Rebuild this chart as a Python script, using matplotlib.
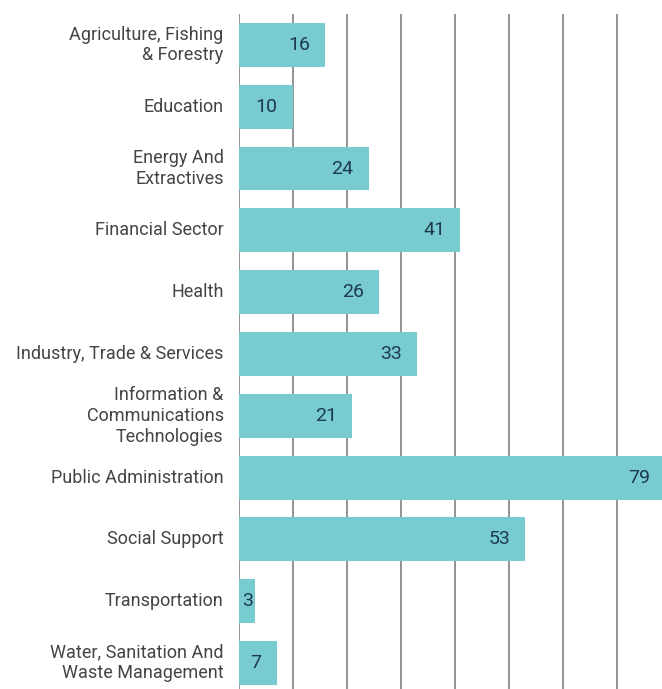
import matplotlib
matplotlib.use('Agg')
import matplotlib.pyplot as plt

sectores = [
    "Agriculture, Fishing\n& Forestry",
    "Education",
    "Energy And\nExtractives",
    "Financial Sector",
    "Health",
    "Industry, Trade & Services",
    "Information &\nCommunications\nTechnologies",
    "Public Administration",
    "Social Support",
    "Transportation",
    "Water, Sanitation And\nWaste Management",
]
valores = [16, 10, 24, 41, 26, 33, 21, 79, 53, 3, 7]
ticks_x = [0, 10, 20, 30, 40, 50, 60, 70]

BAR_COLOR = '#78CCCF'
GRID_COLOR = '#8a8a8a'
XMAX = 78.3

plt.rcParams['font.family'] = ['Roboto', 'DejaVu Sans']

fig = plt.figure(figsize=(6.62, 6.89), dpi=100)
ax_w = 1 - 239 / 662
ax = fig.add_axes([239 / 662, 0, ax_w, 1 - 14 / 689])

y = list(range(len(sectores)))
ax.barh(y, valores, height=0.71, color=BAR_COLOR, zorder=2)

for t in ticks_x:
    ax.axvline(t, color=GRID_COLOR, linewidth=1.3, zorder=1)

ax.set_xlim(0, XMAX)
ax.set_ylim(10.42, -0.5)

# etiquetas de valor dentro de la barra
px_por_unidad = 662 * ax_w / XMAX
for yi, v in zip(y, valores):
    if v * px_por_unidad < 30:
        ax.annotate(str(v), xy=(0, yi), xytext=(2.5, 0), textcoords='offset points',
                    ha='left', va='center', fontsize=14, color='#1d3a4e', zorder=3)
    else:
        ax.annotate(str(v), xy=(v, yi), xytext=(-11, 0), textcoords='offset points',
                    ha='right', va='center', fontsize=14, color='#1d3a4e', zorder=3,
                    annotation_clip=False)

# etiquetas de categoría
for yi, lab in zip(y, sectores):
    ax.annotate(lab, xy=(0, yi), xytext=(-11, 0), textcoords='offset points',
                ha='right', va='center', multialignment='right',
                fontsize=13, color='#444444', linespacing=1.2,
                annotation_clip=False)

ax.set_xticks([])
ax.set_yticks([])
for s in ax.spines.values():
    s.set_visible(False)

plt.savefig('out.png', dpi=100)
plt.close()
